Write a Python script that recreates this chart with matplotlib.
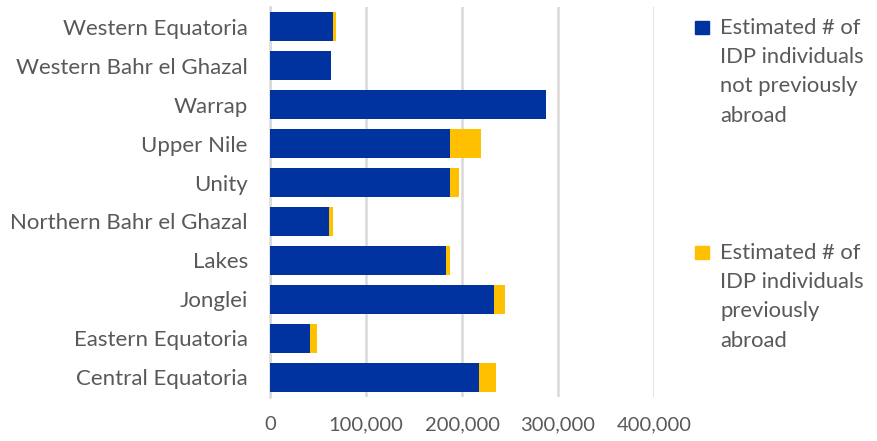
import matplotlib.pyplot as plt
from matplotlib.patches import Rectangle
from matplotlib.ticker import FuncFormatter

plt.rcParams['font.family'] = ['Lato', 'DejaVu Sans']

states = ["Central Equatoria", "Eastern Equatoria", "Jonglei", "Lakes",
          "Northern Bahr el Ghazal", "Unity", "Upper Nile", "Warrap",
          "Western Bahr el Ghazal", "Western Equatoria"]
not_abroad = [217800, 41600, 233800, 183100, 61400, 188000, 187000, 287900, 63500, 65900]
prev_abroad = [17400, 7600, 10700, 4200, 3800, 8700, 32600, 0, 0, 2800]
xticks = [0, 100000, 200000, 300000, 400000]

blue = "#0033A0"
yellow = "#FFC000"
grey = "#595959"

fig = plt.figure(figsize=(8.77, 4.41), dpi=100)
ax = fig.add_axes([0.3079, 0.0998, 0.4378, 0.8843])

ax.barh(states, not_abroad, height=0.74, color=blue, zorder=3)
ax.barh(states, prev_abroad, left=not_abroad, height=0.74, color=yellow, zorder=3)

ax.set_xlim(0, 400000)
ax.set_ylim(-0.5, len(states) - 0.5)
ax.set_xticks(xticks)
ax.xaxis.set_major_formatter(FuncFormatter(lambda v, p: f"{int(v):,}"))
ax.grid(axis="x", color="#D9D9D9", linewidth=1.8, zorder=0)
for s in ["top", "right", "bottom"]:
    ax.spines[s].set_visible(False)
ax.spines["left"].set_color("#D9D9D9")
ax.spines["left"].set_linewidth(1.8)
ax.tick_params(axis="both", length=0, colors=grey)
ax.tick_params(axis="y", pad=16, labelsize=16)
ax.tick_params(axis="x", pad=14, labelsize=14.5)

# legend drawn by hand so the swatch sits on the first line
# (first-line baseline, last-line baseline) in pixels from the top
legend_items = [(blue, "Estimated # of\nIDP individuals\nnot previously\nabroad", 34, 121.7),
                (yellow, "Estimated # of\nIDP individuals\npreviously\nabroad", 259, 346.7)]
for color, label, first, last in legend_items:
    fig.patches.append(Rectangle((695 / 877, 1 - first / 441), 14 / 877, 13 / 441,
                                 transform=fig.transFigure, color=color))
    fig.text(720 / 877, 1 - last / 441, label, ha="left", va="baseline",
             fontsize=15.8, color=grey, linespacing=1.58)

fig.savefig("out.png", dpi=100)
